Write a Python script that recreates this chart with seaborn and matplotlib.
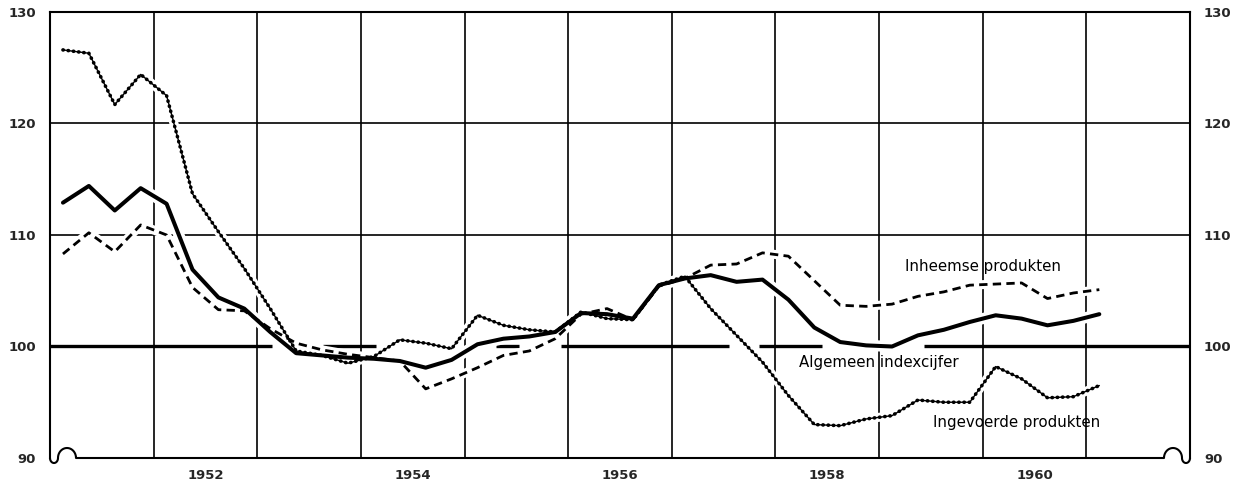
import numpy as np
import pandas as pd
import matplotlib
matplotlib.use("Agg")
import matplotlib.pyplot as plt
import seaborn as sns

# ---- data (quarterly index numbers, 1951 Q1 .. 1961 Q1) ----
quarters = [1951.125 + 0.25 * i for i in range(41)]
algemeen = [112.9, 114.4, 112.2, 114.2, 112.8, 106.9, 104.4, 103.4, 101.3, 99.4,
            99.2, 99.0, 98.9, 98.7, 98.1, 98.8, 100.2, 100.7, 100.9, 101.3,
            103.0, 102.9, 102.5, 105.5, 106.1, 106.4, 105.8, 106.0, 104.2, 101.7,
            100.4, 100.1, 100.0, 101.0, 101.5, 102.2, 102.8, 102.5, 101.9, 102.3,
            102.9]
inheemse = [108.3, 110.2, 108.5, 110.9, 110.0, 105.3, 103.3, 103.2, 101.6, 100.3,
            99.7, 99.3, 99.0, 98.7, 96.2, 97.1, 98.1, 99.2, 99.6, 100.7,
            102.9, 103.4, 102.4, 105.4, 106.1, 107.3, 107.4, 108.4, 108.1, 105.9,
            103.7, 103.6, 103.8, 104.5, 104.9, 105.5, 105.6, 105.7, 104.3, 104.8,
            105.1]
ingevoerde = [126.6, 126.3, 121.7, 124.4, 122.5, 113.7, 110.3, 107.0, 103.4, 99.6,
              99.2, 98.5, 99.1, 100.6, 100.3, 99.8, 102.8, 101.9, 101.5, 101.3,
              103.1, 102.5, 102.4, 105.5, 106.3, 103.4, 101.0, 98.6, 95.6, 93.0,
              92.9, 93.5, 93.8, 95.2, 95.0, 95.0, 98.2, 97.1, 95.4, 95.5,
              96.5]
year_labels = ["1952", "1954", "1956", "1958", "1960"]
y_ticks = [90, 100, 110, 120, 130]
series_labels = ["Inheemse produkten", "Algemeen indexcijfer", "Ingevoerde produkten"]

df = pd.DataFrame({"x": quarters, "alg": algemeen, "inh": inheemse, "ing": ingevoerde})

# ---- style ----
sns.set_style("white")
plt.rcParams["font.family"] = ["DejaVu Sans"]

W, H = 1239, 487
fig = plt.figure(figsize=(W / 100, H / 100), dpi=100)
ax = fig.add_axes([50 / W, 1 - 458 / H, (1190 - 50) / W, (458 - 12) / H])
ax.set_xlim(1951, 1962)
ax.set_ylim(90, 130)

# grid
grid_lw = 1.2
for yr in range(1952, 1962):
    ax.axvline(yr, color="black", lw=grid_lw, zorder=1)
for yv in (110, 120):
    ax.axhline(yv, color="black", lw=grid_lw, zorder=1)
# broken heavy 100 line
segs_100 = [(1951.0, 1953.14), (1953.63, 1954.15), (1955.30, 1955.53),
            (1955.93, 1957.55), (1957.84, 1958.45), (1959.43, 1962.0)]
for a, b in segs_100:
    ax.plot([a, b], [100, 100], color="black", lw=2.4, solid_capstyle="butt", zorder=1)

# white halos so the grid breaks around curves
for col, w in (("alg", 8), ("inh", 6.5), ("ing", 6.5)):
    sns.lineplot(data=df, x="x", y=col, ax=ax, color="white", lw=w, zorder=2,
                 solid_capstyle="round", solid_joinstyle="round")

# curves
sns.lineplot(data=df, x="x", y="inh", ax=ax, color="black", lw=2.0, zorder=3,
             linestyle=(0, (3.0, 1.9)))
sns.lineplot(data=df, x="x", y="ing", ax=ax, color="black", lw=1.0, zorder=3)
sns.lineplot(data=df, x="x", y="ing", ax=ax, color="black", lw=2.6, zorder=3,
             linestyle=(0, (0.1, 1.35)), dash_capstyle="round")
sns.lineplot(data=df, x="x", y="alg", ax=ax, color="black", lw=2.9, zorder=4,
             solid_joinstyle="round", solid_capstyle="round")

# labels
txt_kw = dict(fontsize=10.8, color="black", ha="center", va="center", zorder=5)
ax.text(1960.0, 107.2, series_labels[0], **txt_kw)
ax.text(1959.0, 98.6, series_labels[1], **txt_kw)
ax.text(1960.33, 93.2, series_labels[2], **txt_kw)

# axes / spines
for s in ("left", "right", "top"):
    ax.spines[s].set_linewidth(1.5)
    ax.spines[s].set_color("black")
ax.spines["bottom"].set_visible(False)

# bottom baseline with squiggle breaks at both ends (axes coords)
AW, AH = 1140.0, 446.0
t = np.linspace(0, np.pi, 30)
cup_x = (8 / AW) * (1 - np.cos(t)) / 2
cup_y = -(5 / AH) * np.sin(t)
arch_x = (8 / AW) + (18 / AW) * (1 - np.cos(t)) / 2
arch_y = (10 / AH) * np.sin(t)
lx = np.concatenate([cup_x, arch_x])
ly = np.concatenate([cup_y, arch_y])
path_x = np.concatenate([lx, (1.0 - lx)[::-1]])
path_y = np.concatenate([ly, ly[::-1]])
ax.plot(path_x, path_y, transform=ax.transAxes, color="black", lw=1.5,
        clip_on=False, zorder=6)

# ticks
ax.set_xticks([int(l) + 0.5 for l in year_labels])
ax.set_xticklabels(year_labels)
ax.set_yticks(y_ticks)
ax.set_yticklabels([str(v) for v in y_ticks])
ax.tick_params(axis="both", length=0, labelsize=9.5)
ax.tick_params(axis="x", pad=8)
ax.tick_params(axis="y", pad=10, labelleft=True, labelright=True)
for lab in ax.get_xticklabels() + ax.get_yticklabels():
    lab.set_fontweight("bold")
ax.set_xlabel("")
ax.set_ylabel("")
ax.grid(False)

fig.savefig("out.png", dpi=100)
